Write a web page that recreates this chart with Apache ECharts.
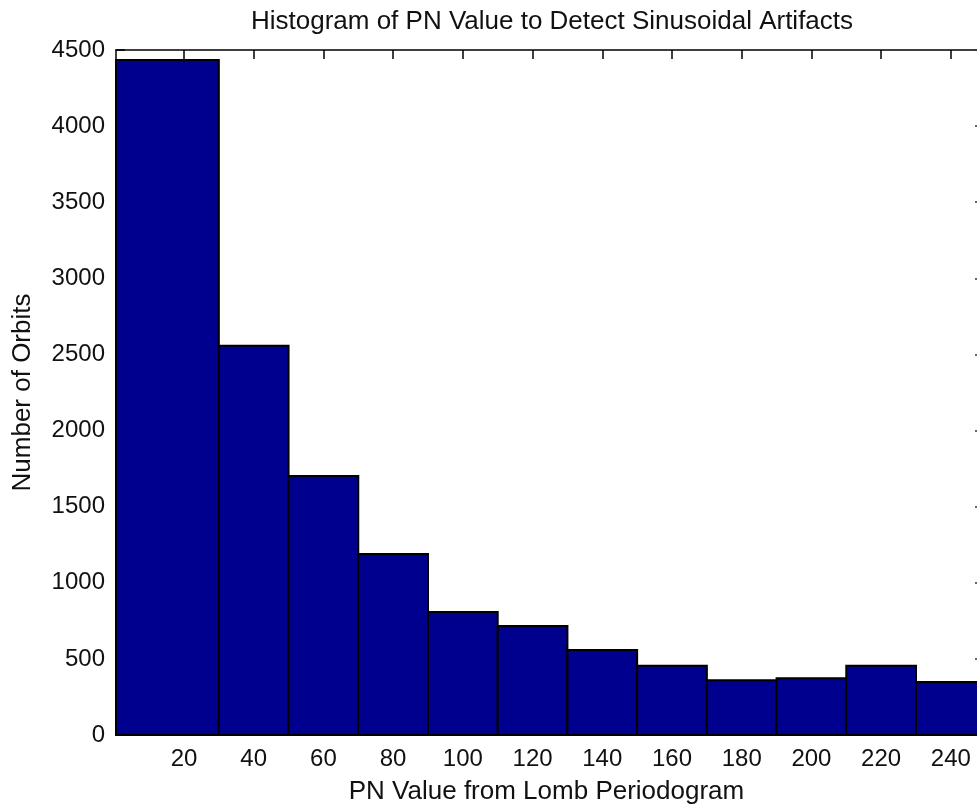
<!DOCTYPE html>
<html>
<head>
<meta charset="utf-8">
<script src="https://cdn.jsdelivr.net/npm/echarts@6/dist/echarts.min.js"></script>
<style>
html, body { margin: 0; padding: 0; background: #fff; }
#chart { width: 977px; height: 805px; }
</style>
</head>
<body>
<div id="chart"></div>
<script>
// histogram bins (PN value) and counts
var binStart = [0.5, 30, 50, 70, 90, 110, 130, 150, 170, 190, 210, 230];
var binEnd = [30, 50, 70, 90, 110, 130, 150, 170, 190, 210, 230, 250];
var counts = [4434, 2557, 1701, 1189, 808, 716, 558, 455, 359, 372, 455, 348];
var xTicks = [20, 40, 60, 80, 100, 120, 140, 160, 180, 200, 220, 240];

var font = 'Arial, "Liberation Sans", sans-serif';
var ink = '#111';

var barData = [];
for (var i = 0; i < counts.length; i++) {
	barData.push([binStart[i], binEnd[i], counts[i]]);
}

function renderBar(params, api) {
	var p0 = api.coord([api.value(0), api.value(2)]);
	var p1 = api.coord([api.value(1), 0]);
	return {
		type: 'rect',
		shape: { x: p0[0], y: p0[1], width: p1[0] - p0[0], height: p1[1] - p0[1] },
		style: { fill: '#00008F', stroke: '#000', lineWidth: 2 }
	};
}

var chart = echarts.init(document.getElementById('chart'));
chart.setOption({
	animation: false,
	backgroundColor: '#fff',
	title: {
		text: 'Histogram of PN Value to Detect Sinusoidal Artifacts',
		left: 547,
		textAlign: 'center',
		top: 4,
		textStyle: { fontFamily: font, fontSize: 26, fontWeight: 'normal', color: ink }
	},
	grid: { left: 116, right: 0, top: 50, bottom: 70, outerBoundsMode: 'none' },
	xAxis: [{
		type: 'value',
		min: 0.5,
		max: 247.5,
		position: 'bottom',
		name: 'PN Value from Lomb Periodogram',
		nameLocation: 'middle',
		nameGap: 44,
		nameTextStyle: { fontFamily: font, fontSize: 26, color: ink },
		axisLine: { show: true, onZero: false, lineStyle: { color: '#000', width: 1.5 } },
		axisTick: { show: true, inside: true, length: 9, customValues: xTicks, lineStyle: { color: '#000', width: 1.5 } },
		axisLabel: { customValues: xTicks, fontFamily: font, fontSize: 24, color: ink, margin: 12 },
		splitLine: { show: false }
	}, {
		type: 'value',
		min: 0.5,
		max: 247.5,
		position: 'top',
		axisLine: { show: true, onZero: false, lineStyle: { color: '#000', width: 1.5 } },
		axisTick: { show: true, inside: true, length: 9, customValues: xTicks, lineStyle: { color: '#000', width: 1.5 } },
		axisLabel: { show: false },
		splitLine: { show: false }
	}],
	yAxis: [{
		type: 'value',
		min: 0,
		max: 4500,
		interval: 500,
		position: 'left',
		name: 'Number of Orbits',
		nameLocation: 'middle',
		nameGap: 80,
		nameTextStyle: { fontFamily: font, fontSize: 26, color: ink },
		axisLine: { show: true, onZero: false, lineStyle: { color: '#000', width: 1.5 } },
		axisTick: { show: true, inside: true, length: 9, lineStyle: { color: '#000', width: 1.5 } },
		axisLabel: { fontFamily: font, fontSize: 24, color: ink, margin: 11, formatter: function (v) { return String(v); } },
		splitLine: { show: false }
	}, {
		type: 'value',
		min: 0,
		max: 4500,
		interval: 500,
		position: 'right',
		axisLine: { show: false },
		axisTick: { show: true, inside: true, length: 2, lineStyle: { color: '#333', width: 1.5 } },
		axisLabel: { show: false },
		splitLine: { show: false }
	}],
	series: [{
		type: 'custom',
		renderItem: renderBar,
		encode: { x: [0, 1], y: 2 },
		data: barData
	}]
});
</script>
</body>
</html>
